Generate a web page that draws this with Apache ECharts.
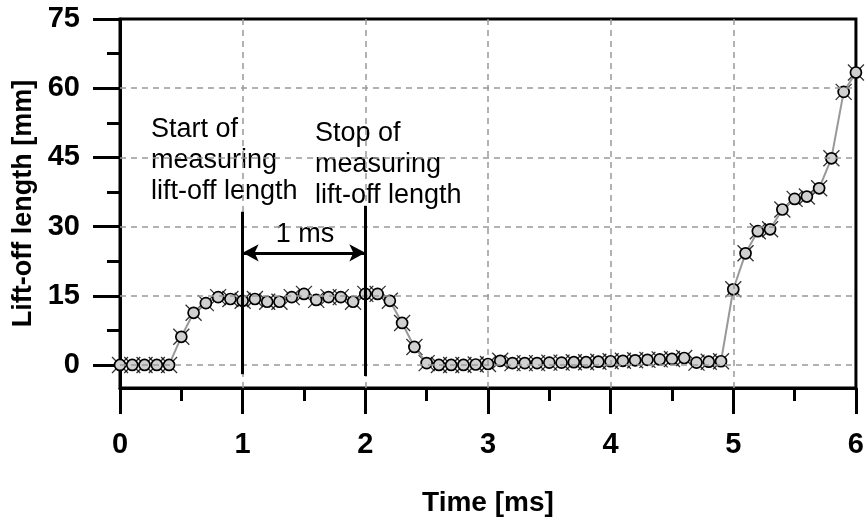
<!DOCTYPE html>
<html>
<head>
<meta charset="utf-8">
<script src="https://cdn.jsdelivr.net/npm/echarts@6/dist/echarts.min.js"></script>
<style>
html,body{margin:0;padding:0;background:#fff;}
#chart{width:867px;height:522px;}
</style>
</head>
<body>
<div id="chart"></div>
<script>
// ---- data ----
const times = [0.0,0.1,0.2,0.3,0.4,0.5,0.6,0.7,0.8,0.9,1.0,1.1,1.2,1.3,1.4,1.5,1.6,1.7,1.8,1.9,2.0,2.1,2.2,2.3,2.4,2.5,2.6,2.7,2.8,2.9,3.0,3.1,3.2,3.3,3.4,3.5,3.6,3.7,3.8,3.9,4.0,4.1,4.2,4.3,4.4,4.5,4.6,4.7,4.8,4.9,5.0,5.1,5.2,5.3,5.4,5.5,5.6,5.7,5.8,5.9,6.0];
const liftOff = [0,0,0,0,0,6.1,11.3,13.4,14.7,14.3,13.9,14.3,13.7,13.7,14.7,15.4,14.1,14.7,14.7,13.7,15.4,15.4,13.9,9.1,3.9,0.4,0,0,0,0.1,0.2,0.9,0.4,0.4,0.4,0.5,0.5,0.6,0.6,0.7,0.8,0.9,1.0,1.1,1.2,1.3,1.5,0.5,0.7,0.8,16.4,24.2,29.0,29.4,33.7,36.0,36.5,38.3,44.8,59.2,63.4];
const yMajorTicks = [0,15,30,45,60,75];
const yMinorTicks = [7.5,22.5,37.5,52.5,67.5];
const xGridLines = [1,2,3,4,5];
const yGridLines = [0,15,30,45,60];
const markerTimes = [1,2];         // start / stop of measuring
const markerLineRange = [[-2,33.2],[-2.4,34.5]];
const arrowLevel = 24.3;
const startText = 'Start of\nmeasuring\nlift-off length';
const stopText = 'Stop of\nmeasuring\nlift-off length';
const spanText = '1 ms';

const points = times.map((t,i)=>[t, liftOff[i]]);
const FONT = "'Liberation Sans', Arial, sans-serif";

const chart = echarts.init(document.getElementById('chart'), null, {renderer:'canvas'});

const gridMark = [];
yGridLines.forEach(v=>gridMark.push({yAxis:v}));
xGridLines.forEach(v=>gridMark.push({xAxis:v}));

const annLines = [];
markerTimes.forEach((t,i)=>{
  annLines.push([{coord:[t,markerLineRange[i][0]], symbol:'none'},{coord:[t,markerLineRange[i][1]], symbol:'none'}]);
});
annLines.push([{coord:[markerTimes[0],arrowLevel], symbol:'arrow'},{coord:[markerTimes[1],arrowLevel], symbol:'arrow'}]);

chart.setOption({
  animation:false,
  backgroundColor:'#fff',
  grid:{left:120, top:19, width:740, height:370, show:true, borderColor:'#000', borderWidth:3, backgroundColor:'transparent'},
  xAxis:{
    type:'value', min:0, max:6, interval:1,
    name:'Time [ms]', nameLocation:'middle', nameGap:101,
    nameTextStyle:{fontFamily:FONT, fontWeight:'bold', fontSize:28, color:'#000'},
    axisLine:{onZero:false, lineStyle:{color:'#000', width:3}},
    axisTick:{show:true, inside:false, length:26, lineStyle:{color:'#000', width:3}},
    minorTick:{show:true, splitNumber:2, length:13, lineStyle:{color:'#000', width:3}},
    axisLabel:{margin:42, fontFamily:FONT, fontWeight:'bold', fontSize:29, color:'#000'},
    splitLine:{show:false}
  },
  yAxis:[{
    type:'value', min:-5, max:75,
    name:'Lift-off length [mm]', nameLocation:'middle', nameGap:82, nameRotate:90,
    nameTextStyle:{fontFamily:FONT, fontWeight:'bold', fontSize:27, color:'#000'},
    axisLine:{show:true, onZero:false, lineStyle:{color:'#000', width:3}},
    axisTick:{show:true, inside:false, length:27, customValues:yMajorTicks, lineStyle:{color:'#000', width:3}},
    axisLabel:{margin:40, customValues:yMajorTicks, fontFamily:FONT, fontWeight:'bold', fontSize:29, color:'#000'},
    splitLine:{show:false}
  },{
    type:'value', min:-5, max:75, position:'left',
    axisLine:{show:false, onZero:false},
    axisTick:{show:true, inside:false, length:13, customValues:yMinorTicks, lineStyle:{color:'#000', width:3}},
    axisLabel:{show:false, customValues:yMinorTicks},
    splitLine:{show:false}
  }],
  series:[
    {
      name:'grid', type:'line', data:[], silent:true,
      markLine:{silent:true, symbol:'none', label:{show:false}, animation:false,
        lineStyle:{color:'#999', type:[6,5], width:1.5}, data:gridMark}
    },
    {
      name:'cross', type:'scatter', data:points, z:3, silent:true,
      symbol:'path://M0,0L10,10M10,0L0,10', symbolSize:16,
      itemStyle:{color:'none', borderColor:'#000', borderWidth:1.3}
    },
    {
      name:'lift', type:'line', data:points, z:4, silent:true,
      symbol:'circle', symbolSize:11, showSymbol:true,
      lineStyle:{color:'#999', width:2},
      itemStyle:{color:'#d0d0d0', borderColor:'#000', borderWidth:1.7}
    },
    {
      name:'annot', type:'line', data:[], z:6, silent:true,
      markLine:{silent:true, symbolSize:[13,16], label:{show:false}, animation:false,
        lineStyle:{color:'#000', type:'solid', width:3}, data:annLines}
    }
  ],
  graphic:[
    {type:'text', left:151, top:114, style:{text:startText, font:'27px '+FONT, fill:'#000', lineHeight:31}},
    {type:'text', left:315, top:118, style:{text:stopText, font:'27px '+FONT, fill:'#000', lineHeight:31}},
    {type:'text', x:305, y:235, style:{text:spanText, font:'27px '+FONT, fill:'#000', align:'center', verticalAlign:'middle'}}
  ]
});
</script>
</body>
</html>
